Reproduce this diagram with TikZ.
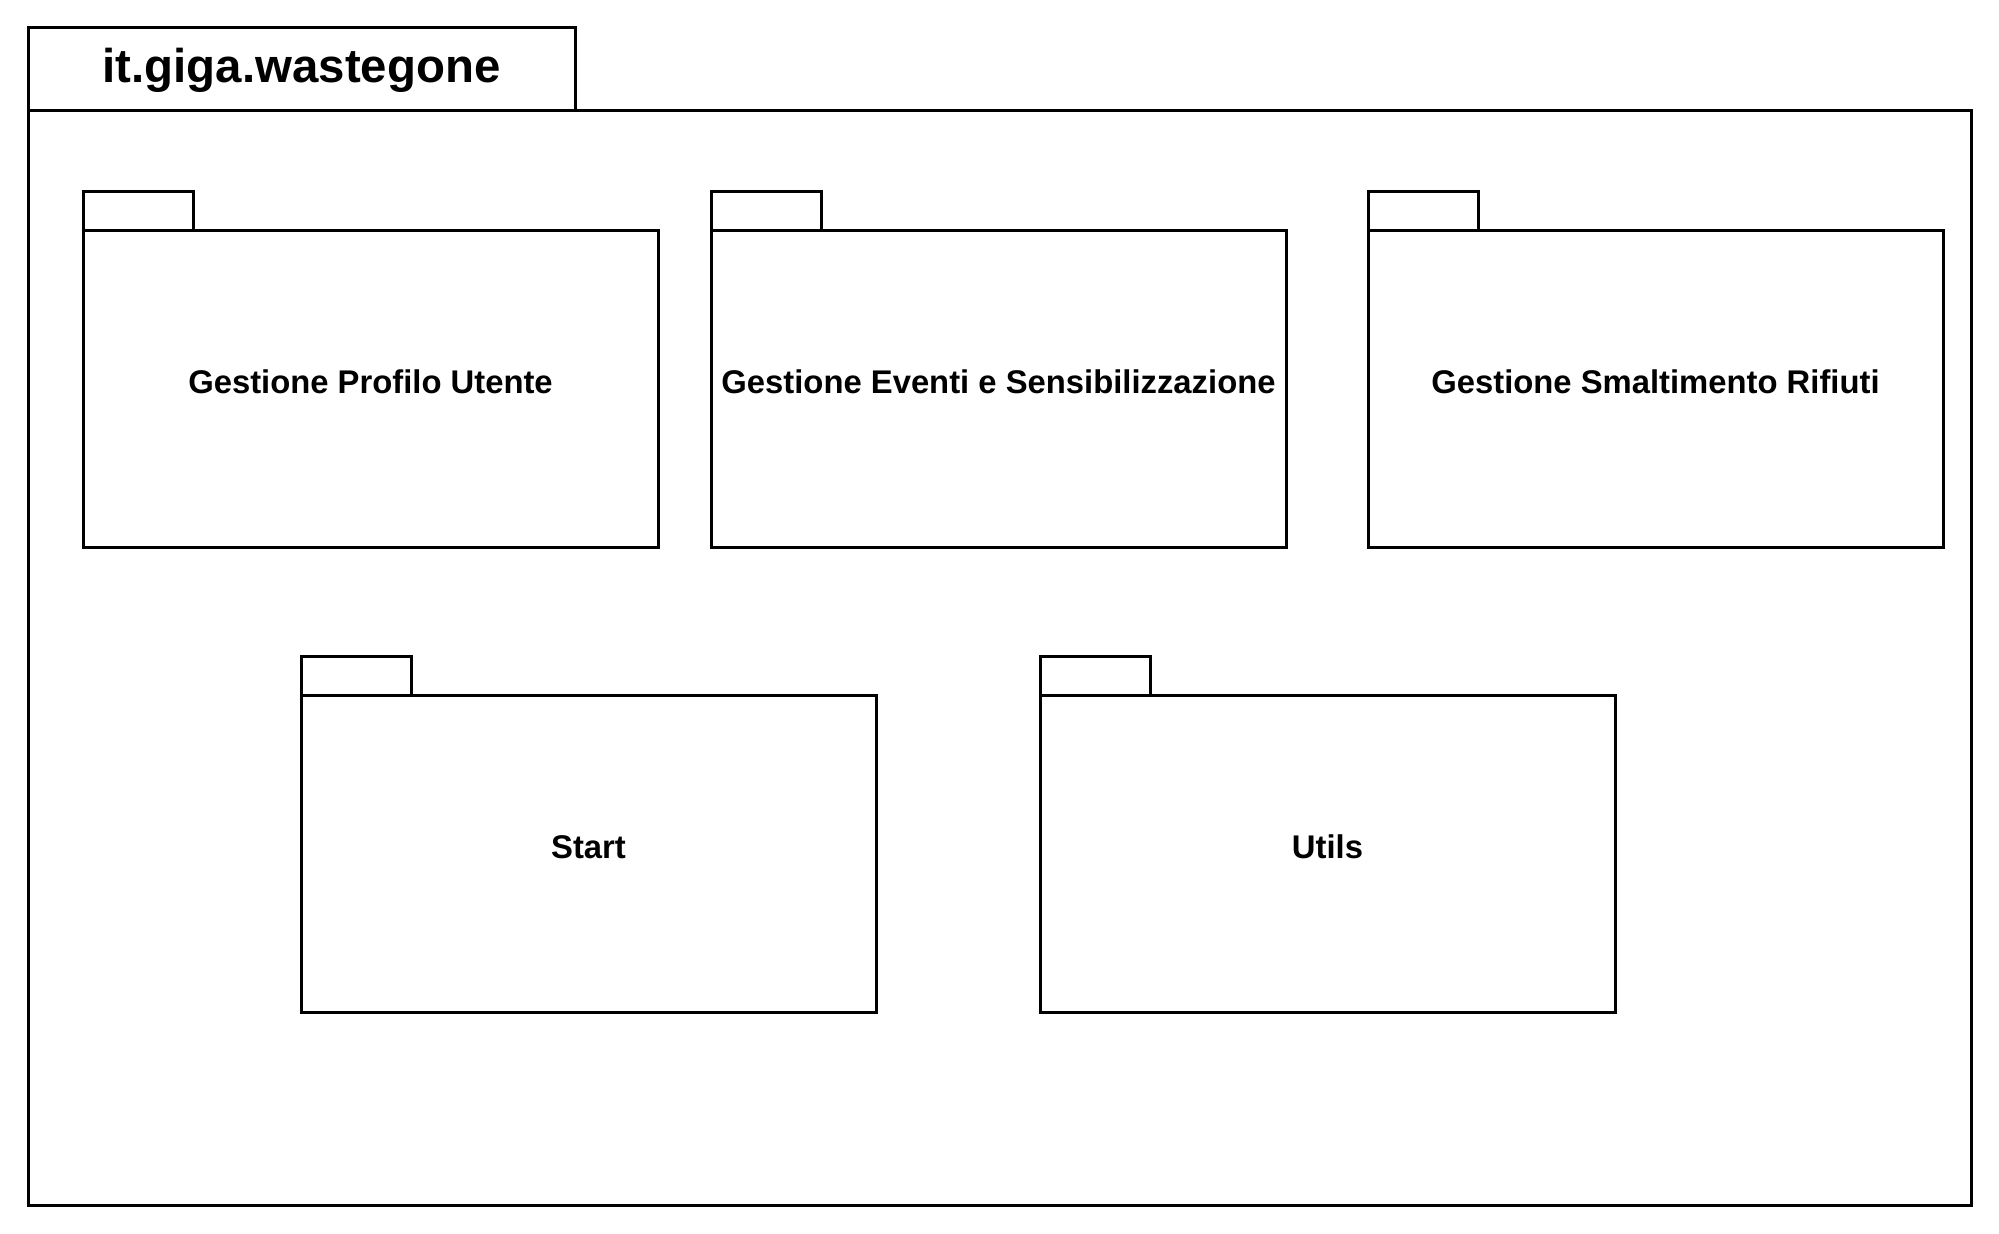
\documentclass[tikz,border=0pt]{standalone}
\usepackage{fontspec}
\setmainfont{Liberation Sans}
\usepackage{tikz}

\begin{document}
\begin{tikzpicture}[x=0.5pt, y=-0.5pt, line width=1.5pt, every node/.style={font=\bfseries\fontsize{16.4}{20}\selectfont}, pkg/.style={draw, rectangle, inner sep=0pt, outer sep=0pt, anchor=north west, minimum width=287.5pt, minimum height=158.5pt}, pkgtab/.style={draw, rectangle, inner sep=0pt, outer sep=0pt, anchor=south west, minimum width=55pt, minimum height=19.5pt}, pkgname/.style={anchor=base, inner sep=0pt}]
	\useasboundingbox (0,0) rectangle (1999,1234);
	% outer package
	\node[draw, rectangle, inner sep=0pt, outer sep=0pt, anchor=north west, minimum width=971.5pt, minimum height=547pt] (root) at (28,111) {};
	\node[draw, rectangle, inner sep=0pt, outer sep=0pt, anchor=south west, minimum width=273.5pt, minimum height=41.5pt] (roottab) at (root.north west) {};
	\node[anchor=base, inner sep=0pt, font=\bfseries\fontsize{23.7}{28}\selectfont] (rootname) at (301.5,83) {it.giga.wastegone};
	% inner packages
	\foreach \n/\x/\y/\t in {p1/83/231/Gestione Profilo Utente, p2/711/231/Gestione Eventi e Sensibilizzazione, p3/1368/231/Gestione Smaltimento Rifiuti, p4/301/696/Start, p5/1040/696/Utils} {
		\node[pkg] (\n) at (\x,\y) {};
		\node[pkgtab] (\n-tab) at (\n.north west) {};
		\node[pkgname] (\n-name) at ([yshift=-81.5pt]\n.north) {\t};
	}
\end{tikzpicture}
\end{document}
